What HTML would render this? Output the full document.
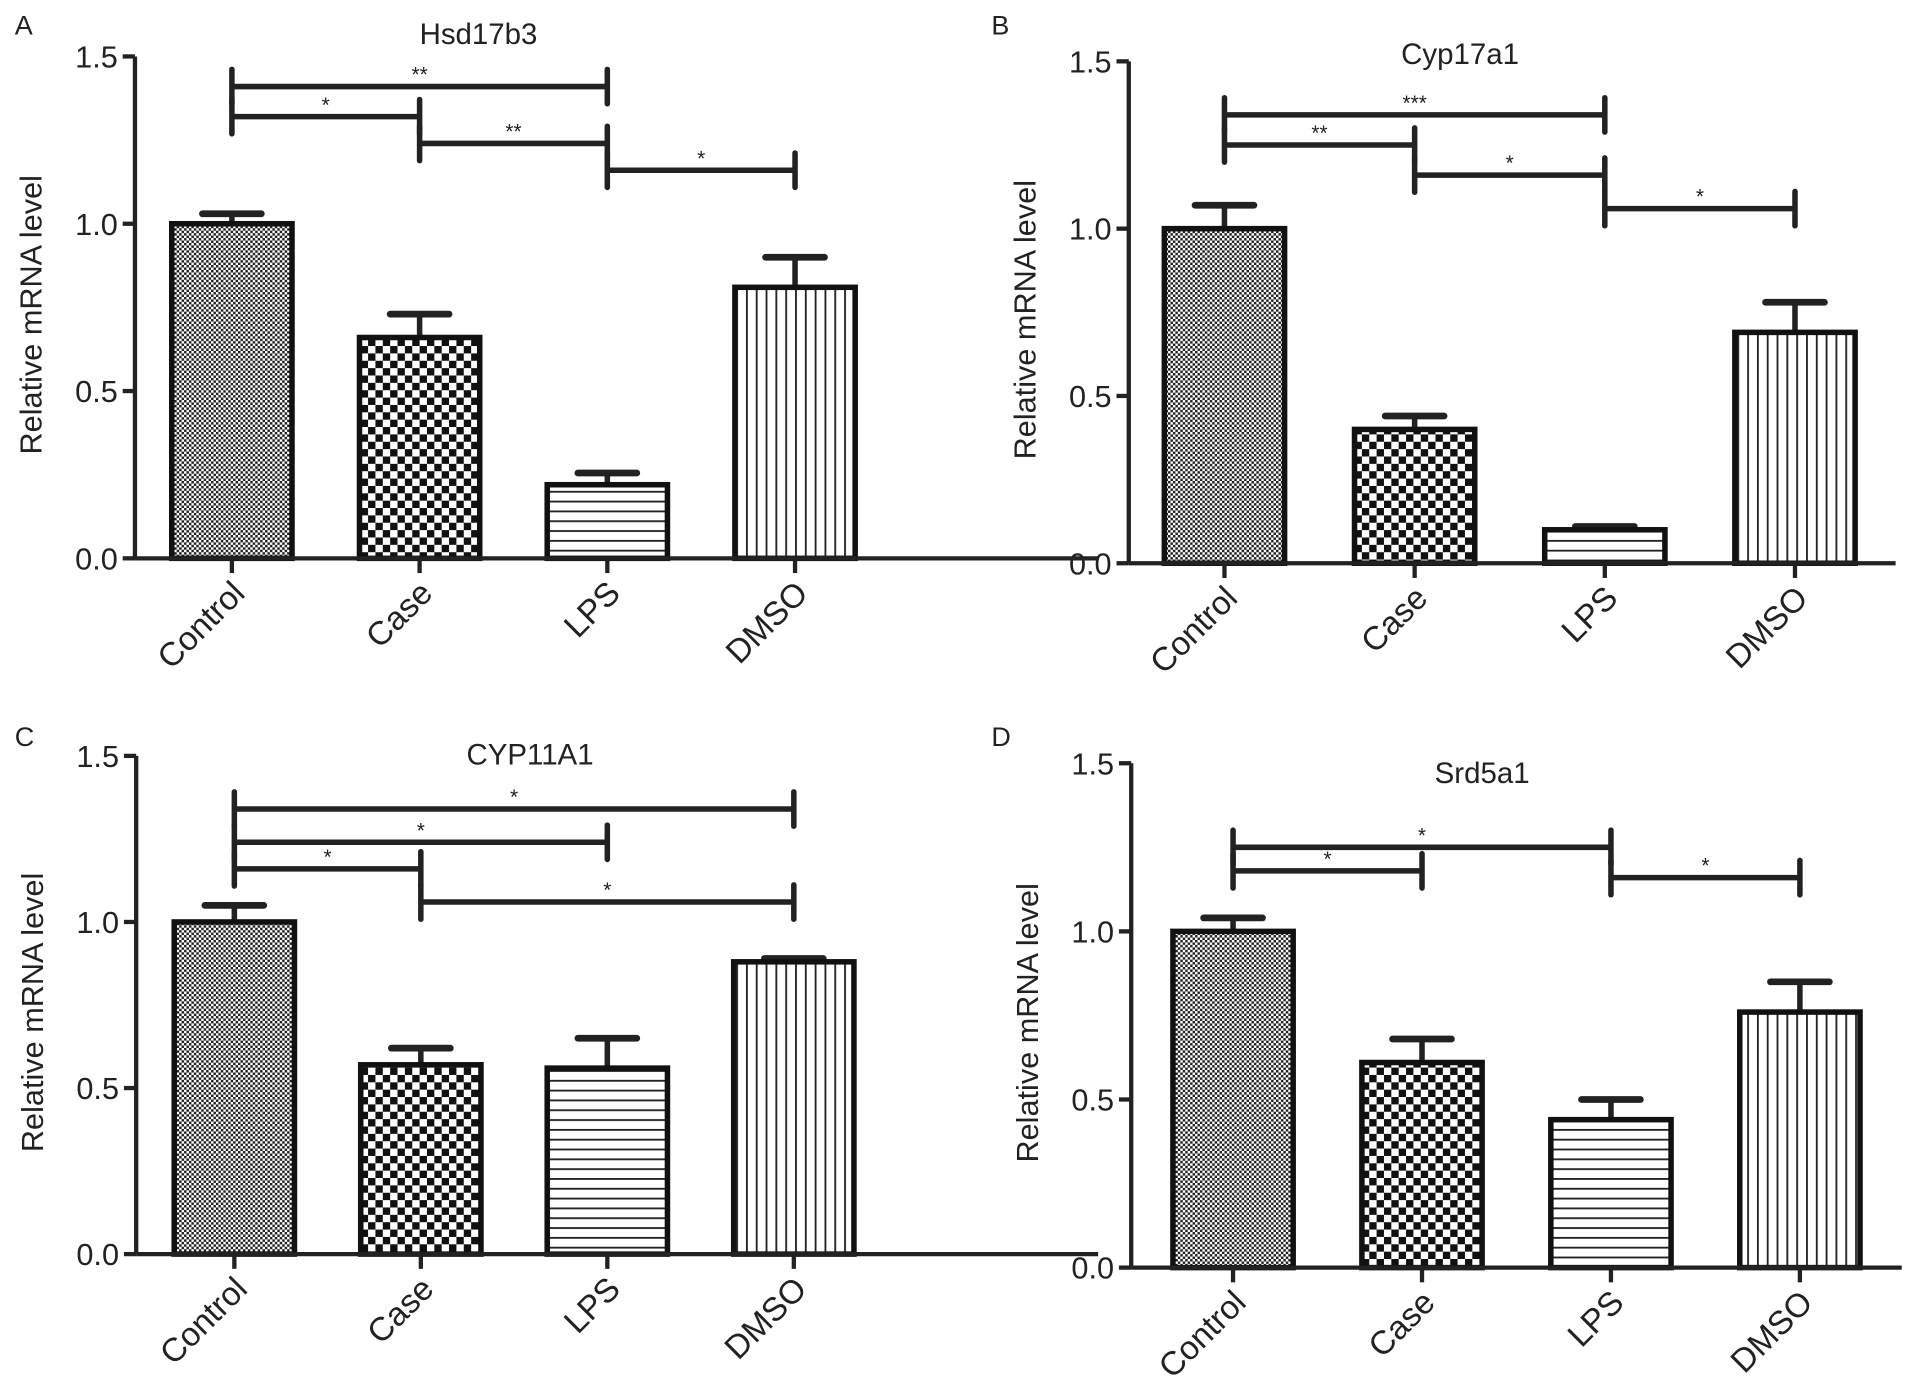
<!DOCTYPE html>
<html><head><meta charset="utf-8"><style>
html,body{margin:0;padding:0;background:#fff;}
svg{display:block;}
text{font-family:"Liberation Sans",sans-serif;fill:#222;}
</style></head><body>
<svg id="fig" width="1914" height="1394" viewBox="0 0 1560 1136" preserveAspectRatio="none">
<defs>
<pattern id="pControl" width="4" height="4" patternUnits="userSpaceOnUse"><rect width="4" height="4" fill="#fff"/><rect width="2" height="2" fill="#222"/><rect x="2" y="2" width="2" height="2" fill="#222"/></pattern>
<pattern id="pCase" width="12" height="12" patternUnits="userSpaceOnUse"><rect width="12" height="12" fill="#fff"/><rect width="6" height="6" fill="#111"/><rect x="6" y="6" width="6" height="6" fill="#111"/></pattern>
<pattern id="pLPS" width="10" height="8" patternUnits="userSpaceOnUse"><rect width="10" height="8" fill="#fff"/><rect y="0" width="10" height="1.5" fill="#222"/></pattern>
<pattern id="pDMSO" width="8" height="10" patternUnits="userSpaceOnUse"><rect width="8" height="10" fill="#fff"/><rect x="0" width="1.5" height="10" fill="#222"/></pattern>
</defs>
</svg>
<script>
const categories = ["Control","Case","LPS","DMSO"];
const patterns = ["pControl","pCase","pLPS","pDMSO"];
const yTicks = [0.0,0.5,1.0,1.5];
const titles = ["Hsd17b3","Cyp17a1","CYP11A1","Srd5a1"];
const letters = ["A","B","C","D"];
const meansA = [1.0,0.66,0.22,0.81];
const errA = [0.03,0.07,0.035,0.09];
const meansB = [1.0,0.40,0.10,0.69];
const errB = [0.07,0.04,0.01,0.09];
const meansC = [1.0,0.57,0.56,0.88];
const errC = [0.05,0.05,0.09,0.01];
const meansD = [1.0,0.61,0.44,0.76];
const errD = [0.04,0.07,0.06,0.09];
const sigA = [[0,2,1.41,"**"],[0,1,1.32,"*"],[1,2,1.24,"**"],[2,3,1.16,"*"]];
const sigB = [[0,2,1.34,"***"],[0,1,1.25,"**"],[1,2,1.16,"*"],[2,3,1.06,"*"]];
const sigC = [[0,3,1.34,"*"],[0,2,1.24,"*"],[0,1,1.16,"*"],[1,3,1.06,"*"]];
const sigD = [[0,2,1.25,"*"],[0,1,1.18,"*"],[2,3,1.16,"*"]];

const layouts = [
 {ax:110,y0:455,y1:46,xEnd:895,c0:189,step:153,letter:[12,28],title:[390,36]},
 {ax:920,y0:459,y1:50,xEnd:1545,c0:998,step:155,letter:[808,28],title:[1190,52]},
 {ax:111,y0:1022,y1:616,xEnd:895,c0:191,step:152,letter:[12,608],title:[432,623]},
 {ax:922,y0:1033,y1:622,xEnd:1550,c0:1005,step:154,letter:[808,608],title:[1208,638]}
];
const means=[meansA,meansB,meansC,meansD], errs=[errA,errB,errC,errD], sigs=[sigA,sigB,sigC,sigD];
const svg=document.getElementById('fig');
const NS="http://www.w3.org/2000/svg";
function mk(tag,attrs,parent){const e=document.createElementNS(NS,tag);for(const k in attrs)e.setAttribute(k,attrs[k]);parent.appendChild(e);return e;}
layouts.forEach((L,p)=>{
  const g=mk('g',{},svg);
  
  
  const y=v=>L.y0-(v/1.5)*(L.y0-L.y1);
  const x=i=>L.c0+i*L.step;
  const bw=98;
  const lt=mk('text',{x:L.letter[0],y:L.letter[1],'font-size':22},g);lt.textContent=letters[p];
  
  
  const tt=mk('text',{x:L.title[0],y:L.title[1],'font-size':24,'text-anchor':'middle'},g);tt.textContent=titles[p];
  
  
  const ya=mk('line',{x1:L.ax,y1:L.y1,x2:L.ax,y2:L.y0,stroke:'#222','stroke-width':3.5},g);
  
  
  yTicks.forEach(t=>{
    mk('line',{x1:L.ax-10,y1:y(t),x2:L.ax,y2:y(t),stroke:'#222','stroke-width':3.5},g);
    const tl=mk('text',{x:L.ax-14,y:y(t)+9,'font-size':25,'text-anchor':'end'},g);tl.textContent=t.toFixed(1);
    
    
  });
  const yl=mk('text',{transform:`translate(${L.ax-76},${(L.y0+L.y1)/2+6}) rotate(-90)`,'font-size':25,'text-anchor':'middle'},g);yl.textContent='Relative mRNA level';
  
  
  categories.forEach((c,i)=>{
    const m=means[p][i], e=errs[p][i];
    const eb=mk('g',{},g);
    mk('line',{x1:x(i),y1:y(m),x2:x(i),y2:y(m+e),stroke:'#222','stroke-width':4.5},eb);
    mk('line',{x1:x(i)-24,y1:y(m+e),x2:x(i)+24,y2:y(m+e),stroke:'#222','stroke-width':5.5,'stroke-linecap':'round'},eb);
    
    
    const r=mk('rect',{x:x(i)-bw/2,y:y(m),width:bw,height:L.y0-y(m),fill:`url(#${patterns[i]})`,stroke:'#111','stroke-width':4.5},g);
    
    
    mk('line',{x1:x(i),y1:L.y0,x2:x(i),y2:L.y0+12,stroke:'#222','stroke-width':3.5},g);
    const xl=mk('text',{transform:`translate(${x(i)+12},${L.y0+30}) rotate(-45)`,'font-size':27,'text-anchor':'end'},g);xl.textContent=c;
    
    
  });
  const xa=mk('line',{x1:L.ax,y1:L.y0,x2:L.xEnd,y2:L.y0,stroke:'#222','stroke-width':3.5},g);
  
  
  sigs[p].forEach(s=>{
    const sg=mk('g',{},g);
    const a=x(s[0]),b=x(s[1]),yy=y(s[2]);
    mk('line',{x1:a,y1:yy,x2:b,y2:yy,stroke:'#222','stroke-width':4.5},sg);
    mk('line',{x1:a,y1:yy-14,x2:a,y2:yy+14,stroke:'#222','stroke-width':4.5,'stroke-linecap':'round'},sg);
    mk('line',{x1:b,y1:yy-14,x2:b,y2:yy+14,stroke:'#222','stroke-width':4.5,'stroke-linecap':'round'},sg);
    const st=mk('text',{x:(a+b)/2,y:yy-4,'font-size':17,'text-anchor':'middle'},sg);st.textContent=s[3];
    
    
  });
});
</script>
</body></html>
